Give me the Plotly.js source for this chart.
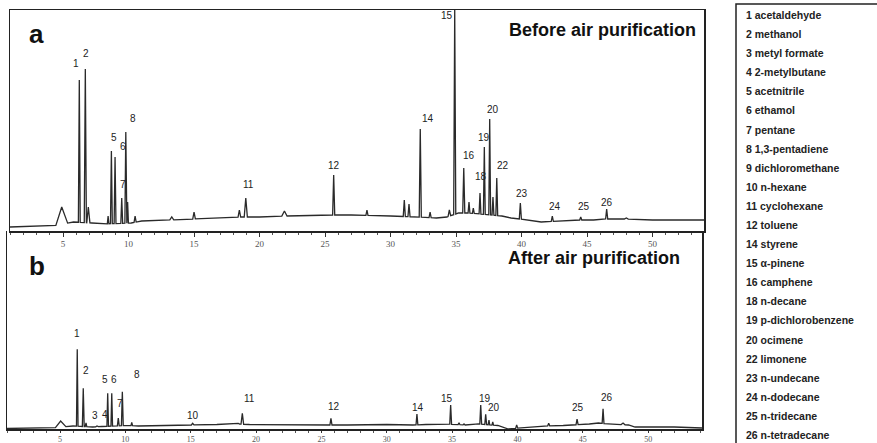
<!DOCTYPE html>
<html>
<head>
<meta charset="utf-8">
<script src="https://cdn.plot.ly/plotly-3.0.1.min.js"></script>
<style>html,body{margin:0;padding:0;background:#fff;}#chart{width:877px;height:443px;}</style>
</head>
<body>
<div id="chart"></div>
<script>
// ---------- Panel a (before air purification) ----------
const baseTimeA  = [0.95, 4.2, 5.8, 7.2, 8.0, 10.2, 11, 13, 15, 17, 18.5, 20, 22, 25, 27, 30, 32, 33.5, 34.3, 35.2, 36, 38.5, 39.2, 40.5, 41.5, 43, 44, 45.5, 46.2, 48, 50, 52, 53.95];
const baseLevelA = [4, 5, 9, 8, 7, 8, 10, 11, 12, 13, 14, 14, 15, 16, 16, 15, 14, 13, 14, 18, 18, 15, 13, 11, 9, 10, 11, 11, 12, 12, 11, 11, 11];
const peakTimeA  = [4.9, 6.24, 6.70, 6.93, 8.44, 8.69, 8.97, 9.48, 9.79, 9.93, 10.5, 13.3, 15.0, 18.46, 18.95, 21.9, 25.66, 28.2, 31.05, 31.41, 32.27, 33.02, 34.49, 34.90, 35.59, 35.99, 36.32, 36.83, 37.16, 37.57, 37.82, 38.11, 39.91, 42.35, 44.52, 46.50, 48.0];
const peakLevelA = [24, 151, 162, 24, 15, 80, 74, 33, 99, 29, 15, 14, 19, 21, 33, 20, 56, 21, 31, 27, 102, 19, 21, 221, 63, 29, 23, 38, 84, 112, 34, 53, 28, 15, 14, 22, 13];
const peakLabelA = ["", "1", "2", "", "", "5", "6", "7", "8", "", "", "", "", "", "11", "", "12", "", "", "", "14", "", "", "15", "16", "", "", "18", "19", "20", "", "22", "23", "24", "25", "26", ""];

// ---------- Panel b (after air purification) ----------
const baseTimeB  = [0.945, 4.3, 6.0, 7.5, 8.2, 10.2, 11, 13, 15, 17, 18.5, 19.5, 22, 25, 27, 30, 32, 33, 34.5, 36, 37, 38.5, 39.3, 41, 42, 43.5, 45.5, 46.2, 47, 48.5, 49, 52, 54.12];
const baseLevelB = [3.5, 4, 6, 5, 5.5, 6.5, 6, 6.5, 7, 7.5, 8, 7.5, 7.5, 7, 7, 7.5, 7, 7.5, 8, 7, 8, 6.5, 3, 5, 6, 6.5, 8, 9, 8, 7, 5, 5, 4];
const peakTimeB  = [5.05, 6.32, 6.78, 6.99, 7.83, 8.47, 8.65, 8.96, 9.46, 9.77, 10.49, 15.15, 17.45, 18.64, 18.95, 25.73, 32.31, 34.89, 35.53, 35.91, 36.88, 37.19, 37.57, 37.82, 38.11, 39.94, 42.39, 44.56, 45.93, 46.55, 48.08];
const peakLevelB = [11, 82.7, 43.7, 9, 6, 6.3, 38.7, 38.7, 14, 40.3, 9.7, 8.7, 8, 8.7, 18.7, 13.7, 18, 27, 9.3, 8, 8, 27, 17.7, 12, 10, 7, 8.7, 13, 8.7, 23.3, 9];
const peakLabelB = ["", "1", "2", "", "3", "4", "5", "6", "", "7", "8", "10", "", "", "11", "12", "14", "15", "", "", "", "19", "20", "", "", "", "", "25", "", "26", ""];

// ---------- Compound key ----------
const compoundNumbers = ["1", "2", "3", "4", "5", "6", "7", "8", "9", "10", "11", "12", "14", "15", "16", "18", "19", "20", "22", "23", "24", "25", "26"];
const compoundNames = ["acetaldehyde", "methanol", "metyl formate", "2-metylbutane", "acetnitrile", "ethamol", "pentane", "1,3-pentadiene", "dichloromethane", "n-hexane", "cyclohexane", "toluene", "styrene", "\u03b1-pinene", "camphene", "n-decane", "p-dichlorobenzene", "ocimene", "limonene", "n-undecane", "n-dodecane", "n-tridecane", "n-tetradecane"];

const tickValues = [5, 10, 15, 20, 25, 30, 35, 40, 45, 50];
const tickLabels = ["5", "10", "15", "20", "25", "30", "35", "40", "45", "50"];

// ---------- styling (not data) ----------
const peakHalfWidthA = [0.45, 0.07, 0.08, 0.12, 0.06, 0.07, 0.07, 0.07, 0.07, 0.06, 0.08, 0.15, 0.1, 0.1, 0.12, 0.2, 0.08, 0.08, 0.08, 0.08, 0.08, 0.08, 0.1, 0.08, 0.08, 0.07, 0.07, 0.07, 0.07, 0.07, 0.07, 0.07, 0.08, 0.08, 0.08, 0.08, 0.15];
const peakHalfWidthB = [0.4, 0.06, 0.07, 0.06, 0.1, 0.07, 0.06, 0.06, 0.07, 0.07, 0.06, 0.1, 0.1, 0.1, 0.1, 0.08, 0.07, 0.07, 0.07, 0.07, 0.07, 0.07, 0.07, 0.06, 0.06, 0.08, 0.08, 0.08, 0.08, 0.07, 0.15];
// label offsets in pixels (x right, y up)
const labelShiftA = {"1":[-3,17],"2":[1,16],"5":[3,14],"6":[8,11],"7":[1,14],"8":[7,14],"11":[3,14],"12":[0,10],"14":[8,11],"15":[-8,-6],"16":[5,13],"18":[1,17],"19":[0,10],"20":[3,10],"22":[6,13],"23":[2,10],"24":[3,10],"25":[3,11],"26":[0,7]};
const labelShiftB = {"1":[0,16],"2":[3,18],"3":[-2,11],"4":[0,11],"5":[-3,14],"6":[2,14],"7":[-2,-12],"8":[5,48],"10":[0,8],"11":[7,15],"12":[3,12],"14":[1,7],"15":[-4,7],"19":[4,7],"20":[8,7],"25":[1,12],"26":[4,11]};

function interp(ts, vs, t) {
  if (t <= ts[0]) return vs[0];
  for (let i = 1; i < ts.length; i++) {
    if (t <= ts[i]) {
      const f = (t - ts[i-1]) / (ts[i] - ts[i-1]);
      return vs[i-1] + f * (vs[i] - vs[i-1]);
    }
  }
  return vs[vs.length - 1];
}

function buildTrace(bt, bv, pt, pv, pw) {
  const pts = [];
  for (let i = 0; i < bt.length; i++) {
    let inside = false;
    for (let k = 0; k < pt.length; k++) {
      if (bt[i] > pt[k] - pw[k] && bt[i] < pt[k] + pw[k]) inside = true;
    }
    if (!inside) pts.push([bt[i], bv[i]]);
  }
  for (let k = 0; k < pt.length; k++) {
    pts.push([pt[k] - pw[k], interp(bt, bv, pt[k] - pw[k])]);
    pts.push([pt[k], pv[k]]);
    pts.push([pt[k] + pw[k], interp(bt, bv, pt[k] + pw[k])]);
  }
  pts.sort((a, b) => a[0] - b[0]);
  return {x: pts.map(p => p[0]), y: pts.map(p => p[1])};
}

const W = 877, H = 443;
const px = v => v / W;
const py = v => (H - v) / H;

const trA = buildTrace(baseTimeA, baseLevelA, peakTimeA, peakLevelA, peakHalfWidthA);
const trB = buildTrace(baseTimeB, baseLevelB, peakTimeB, peakLevelB, peakHalfWidthB);

const lineStyle = {color: '#2a2a2a', width: 1.3};
const data = [
  {x: trA.x, y: trA.y, xaxis: 'x', yaxis: 'y', mode: 'lines', line: lineStyle, hoverinfo: 'skip', showlegend: false},
  {x: trB.x, y: trB.y, xaxis: 'x2', yaxis: 'y2', mode: 'lines', line: lineStyle, hoverinfo: 'skip', showlegend: false}
];

const annotations = [];
function peakLabels(times, levels, labels, shifts, xref, yref) {
  for (let k = 0; k < times.length; k++) {
    if (!labels[k]) continue;
    const s = shifts[labels[k]] || [0, 10];
    annotations.push({
      x: times[k], y: levels[k], xref: xref, yref: yref, text: labels[k], showarrow: false,
      xanchor: 'center', yanchor: 'middle', xshift: s[0], yshift: s[1],
      font: {family: 'Liberation Sans, Arial, sans-serif', size: 10, color: '#222'}
    });
  }
}
peakLabels(peakTimeA, peakLevelA, peakLabelA, labelShiftA, 'x', 'y');
peakLabels(peakTimeB, peakLevelB, peakLabelB, labelShiftB, 'x2', 'y2');

const bigFont = {family: 'Liberation Sans, Arial, sans-serif', size: 26, color: '#111'};
annotations.push({xref: 'paper', yref: 'paper', x: px(36), y: py(34), text: '<b>a</b>', showarrow: false, xanchor: 'center', yanchor: 'middle', font: bigFont});
annotations.push({xref: 'paper', yref: 'paper', x: px(36.5), y: py(266), text: '<b>b</b>', showarrow: false, xanchor: 'center', yanchor: 'middle', font: bigFont});
const titleFont = {family: 'Liberation Sans, Arial, sans-serif', size: 18, color: '#111'};
annotations.push({xref: 'paper', yref: 'paper', x: px(698), y: py(30), text: '<b>Before air purification</b>', showarrow: false, xanchor: 'right', yanchor: 'middle', font: titleFont});
annotations.push({xref: 'paper', yref: 'paper', x: px(682), y: py(258), text: '<b>After air purification</b>', showarrow: false, xanchor: 'right', yanchor: 'middle', font: titleFont});

for (let i = 0; i < compoundNumbers.length; i++) {
  annotations.push({
    xref: 'paper', yref: 'paper', x: px(744), y: py(15 + i * 19.09), xanchor: 'left', yanchor: 'middle',
    text: '<b>' + compoundNumbers[i] + ' ' + compoundNames[i] + '</b>', showarrow: false,
    font: {family: 'Liberation Sans, Arial, sans-serif', size: 10.5, color: '#222'}
  });
}

const axisLine = {showline: true, linecolor: '#222', linewidth: 1.5, showgrid: false, zeroline: false};
const xCommon = Object.assign({}, axisLine, {
  tickmode: 'array', tickvals: tickValues, ticktext: tickLabels, ticks: 'outside', ticklen: 4, tickwidth: 1, tickcolor: '#333',
  tickfont: {family: 'Liberation Serif, serif', size: 9, color: '#555'},
  minor: {dtick: 1, ticks: 'outside', ticklen: 2, tickcolor: '#555'}
});

const layout = {
  width: W, height: H, margin: {l: 0, r: 0, t: 0, b: 0}, paper_bgcolor: '#fff', plot_bgcolor: '#fff',
  showlegend: false,
  xaxis: Object.assign({}, xCommon, {domain: [px(10), px(704)], range: [0.95, 53.93], anchor: 'y', mirror: true}),
  yaxis: Object.assign({}, axisLine, {domain: [py(231), py(10)], range: [0, 221], showticklabels: false, ticks: '', mirror: true, anchor: 'x'}),
  xaxis2: Object.assign({}, xCommon, {domain: [px(7), px(702)], range: [0.945, 54.12], anchor: 'y2', ticklen: 2,
    tickfont: {family: 'Liberation Serif, serif', size: 8, color: '#555'}}),
  yaxis2: Object.assign({}, axisLine, {domain: [py(429), py(231)], range: [3, 201], showticklabels: false, ticks: '', mirror: true, anchor: 'x2'}),
  annotations: annotations,
  shapes: [{type: 'rect', xref: 'paper', yref: 'paper', x0: px(736), x1: px(900), y0: py(460), y1: py(4), line: {color: '#222', width: 1.5}, fillcolor: 'rgba(0,0,0,0)'}]
};

Plotly.newPlot('chart', data, layout, {staticPlot: true, displayModeBar: false});
</script>
</body>
</html>
